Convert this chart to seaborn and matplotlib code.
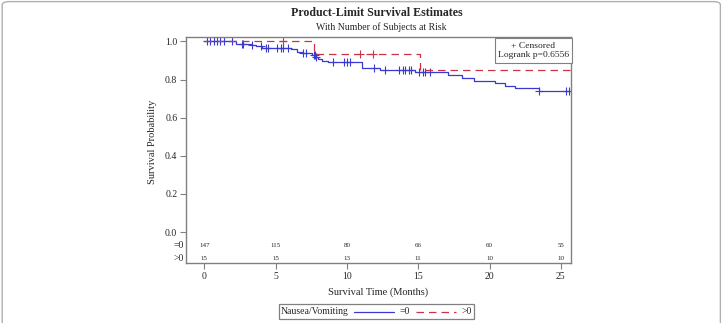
import numpy as np
import pandas as pd
import matplotlib
matplotlib.use("Agg")
import matplotlib.pyplot as plt
import seaborn as sns
from matplotlib.lines import Line2D
from matplotlib.patches import FancyBboxPatch
from matplotlib.offsetbox import AnchoredOffsetbox, HPacker, TextArea, DrawingArea

# Kaplan-Meier step curves (months, survival)
times_no = [0, 2.2, 3.35, 3.65, 4.05, 6.05, 6.5, 6.85, 7.55, 7.8, 8.0, 8.25, 8.7,
            11.05, 12.35, 14.75, 17.1, 18.1, 18.9, 20.4, 21.1, 21.8, 23.45, 25.7]
surv_no = [1.0, 0.988, 0.98, 0.975, 0.968, 0.958, 0.947, 0.937, 0.928, 0.917, 0.909, 0.9, 0.891,
           0.863, 0.849, 0.84, 0.826, 0.809, 0.795, 0.783, 0.768, 0.756, 0.742, 0.742]
times_yes = [0, 7.7, 15.1, 25.7]
surv_yes = [1.0, 0.933, 0.848, 0.848]

# censoring times
cens_no = [0.2, 0.4, 0.65, 0.9, 1.1, 1.35, 1.95, 2.65, 2.75, 3.35, 3.95, 4.3, 4.5, 5.1,
           5.35, 5.55, 5.9, 6.95, 7.1, 7.7, 7.75, 7.85, 9.0, 9.8, 10.0, 10.25, 11.9,
           12.7, 13.65, 13.9, 14.1, 14.35, 14.5, 15.05, 15.3, 15.5, 15.85, 23.5, 25.35, 25.6]
cens_yes = [5.55, 10.9, 11.8]

# number at risk
risk_times = [0, 5, 10, 15, 20, 25]
risk_no = [147, 115, 80, 66, 60, 55]
risk_yes = [15, 15, 13, 11, 10, 10]

BLUE = "#3a3ad0"
RED = "#cc3344"
GRAY = "#808080"


def step_value(t_list, s_list, t):
    idx = np.searchsorted(t_list, t, side="right") - 1
    return np.asarray(s_list)[idx]


sns.set_style("ticks")
plt.rcParams["font.family"] = ["Liberation Serif", "DejaVu Serif"]

fig = plt.figure(figsize=(7.24, 3.23), dpi=100)
ax = fig.add_axes([0.2565, 0.1848, 0.5318, 0.7016])

df_no = pd.DataFrame({"t": times_no, "s": surv_no})
df_yes = pd.DataFrame({"t": times_yes, "s": surv_yes})
sns.lineplot(data=df_no, x="t", y="s", drawstyle="steps-post", color=BLUE, lw=0.9, ax=ax)
sns.lineplot(data=df_yes, x="t", y="s", drawstyle="steps-post", color=RED, lw=0.9,
             ax=ax, dashes=False, linestyle=(0, (6, 4)))

cn = pd.DataFrame({"t": cens_no, "s": step_value(times_no, surv_no, np.array(cens_no))})
cy = pd.DataFrame({"t": cens_yes, "s": step_value(times_yes, surv_yes, np.array(cens_yes))})
sns.scatterplot(data=cn, x="t", y="s", marker="+", color=BLUE, s=26, linewidth=0.8, ax=ax)
sns.scatterplot(data=cy, x="t", y="s", marker="+", color=RED, s=26, linewidth=0.8, ax=ax)

# number at risk rows inside the plot box
for t, n0, n1 in zip(risk_times, risk_no, risk_yes):
    ax.text(t, -0.068, str(n0), ha="center", va="center", fontsize=5)
    ax.text(t, -0.138, str(n1), ha="center", va="center", fontsize=5)
ax.text(-1.45, -0.068, "=0", ha="right", va="center", fontsize=7)
ax.text(-1.45, -0.138, ">0", ha="right", va="center", fontsize=7)

ax.set_xlim(-1.3, 25.69)
ax.set_ylim(-0.164, 1.025)
ax.set_xticks(risk_times)
ax.set_yticks([0.0, 0.2, 0.4, 0.6, 0.8, 1.0])
ax.set_yticklabels([f"{v:.1f}" for v in [0.0, 0.2, 0.4, 0.6, 0.8, 1.0]])
ax.tick_params(labelsize=7, length=4, width=0.8, color=GRAY, pad=2)
ax.set_xlabel("")
ax.set_ylabel("")
for sp in ax.spines.values():
    sp.set_visible(True)
    sp.set_color(GRAY)
    sp.set_linewidth(1.0)

ax.text(0.903, 0.978, "+ Censored\nLogrank p=0.6556", transform=ax.transAxes,
        ha="center", va="top", fontsize=6.8, multialignment="center", linespacing=1.3,
        bbox=dict(boxstyle="square,pad=0.35", fc="white", ec=GRAY, lw=0.8))

fig.text(0.52, 0.96, "Product-Limit Survival Estimates", ha="center", va="center",
         fontsize=8.6, fontweight="bold")
fig.text(0.527, 0.915, "With Number of Subjects at Risk", ha="center", va="center", fontsize=7)
fig.text(0.211, 0.56, "Survival Probability", rotation=90, ha="center", va="center", fontsize=7.5)
fig.text(0.522, 0.094, "Survival Time (Months)", ha="center", va="center", fontsize=7.5)

# bottom legend box
fs = 7
da1 = DrawingArea(31, 8, 0, 0)
da1.add_artist(Line2D([1, 30], [4, 4], color=BLUE, lw=0.9))
da2 = DrawingArea(31, 8, 0, 0)
da2.add_artist(Line2D([1, 30], [4, 4], color=RED, lw=0.9, linestyle=(0, (6, 4))))
box = HPacker(children=[TextArea("Nausea/Vomiting", textprops=dict(fontsize=fs)),
                        da1, TextArea("=0", textprops=dict(fontsize=fs)),
                        da2, TextArea(">0", textprops=dict(fontsize=fs))],
              align="center", pad=0, sep=3)
anch = AnchoredOffsetbox(loc="center", child=box, pad=0.15, borderpad=0,
                         bbox_to_anchor=(0.52, 0.035), bbox_transform=fig.transFigure,
                         frameon=True)
anch.patch.set_edgecolor(GRAY)
anch.patch.set_linewidth(0.9)
fig.add_artist(anch)

# outer rounded frame
fig.patches.append(FancyBboxPatch((0.003, -0.05), 0.992, 1.045, boxstyle="round,pad=0,rounding_size=0.01",
                                  transform=fig.transFigure, fc="none", ec="#b0b0b0", lw=1.0))

fig.savefig("out.png", dpi=100)
